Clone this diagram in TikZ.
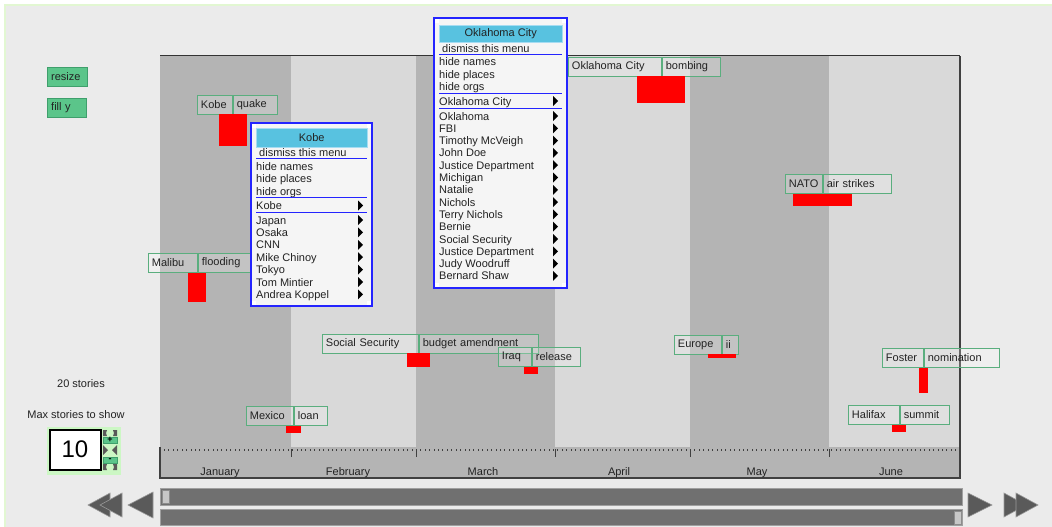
\documentclass[tikz,border=0pt]{standalone}
\usepackage{fontspec}
\setmainfont{Liberation Sans}
\usepackage{xcolor}
\usetikzlibrary{positioning, calc}

\definecolor{panel}{HTML}{EBEBEB}
\definecolor{paneledge}{HTML}{E2F7D2}
\definecolor{darkband}{HTML}{B4B4B4}
\definecolor{lightband}{HTML}{D9D9D9}
\definecolor{tagline}{HTML}{5AAE7E}
\definecolor{btngreen}{HTML}{5BC58A}
\definecolor{btnedge}{HTML}{3F9F6C}
\definecolor{menublue}{HTML}{2424FF}
\definecolor{menubg}{HTML}{F5F5F5}
\definecolor{titlecyan}{HTML}{58C2E0}
\definecolor{titleedge}{HTML}{A6DCF2}
\definecolor{scrollgray}{HTML}{707070}
\definecolor{scrolledge}{HTML}{A0A0A0}
\definecolor{arrowgray}{HTML}{5A5A5A}
\definecolor{spinbg}{HTML}{CCF7C4}
\definecolor{ink}{HTML}{222222}

\begin{document}
\begin{tikzpicture}[
    x=1pt, y=-1pt,
    font=\fontsize{11}{13}\selectfont,
    tag/.style={
        rectangle,
        draw=tagline,
        line width=0.9pt,
        fill=white,
        fill opacity=0.2,
        text opacity=1,
        text=ink,
        minimum height=19pt,
        inner xsep=3.5pt,
        inner ysep=0pt,
        anchor=north west,
        align=left
    },
    bar/.style={fill=red},
    button/.style={
        rectangle,
        draw=btnedge,
        fill=btngreen,
        text=ink,
        minimum height=19pt,
        inner xsep=4pt,
        inner ysep=0pt,
        anchor=north west,
        align=left
    },
    menuframe/.style={draw=menublue, fill=menubg, line width=2pt},
    menutitle/.style={
        rectangle,
        draw=titleedge,
        fill=titlecyan,
        text=ink,
        inner sep=0pt,
        anchor=north west
    },
    item/.style={anchor=base west, inner sep=0pt, text=ink},
    sep/.style={menublue, line width=1pt},
    month/.style={anchor=base, inner sep=0pt, text=ink},
    scroll/.style={fill=scrollgray, draw=scrolledge, line width=0.8pt},
    thumb/.style={fill=black!22, draw=black!45, line width=0.6pt},
    playarrow/.style={fill=arrowgray, draw=black!40, line width=0.6pt}
]

\useasboundingbox (0,0) rectangle (1052,527);

% Panel
\fill[white] (0,0) rectangle (1052,527);
\fill[panel, draw=paneledge, line width=1.2pt] (5,5) rectangle (1062,537);

% Month bands
\fill[darkband]  (160,56) rectangle (291,448);
\fill[lightband] (291,56) rectangle (416,448);
\fill[darkband]  (416,56) rectangle (555,448);
\fill[lightband] (555,56) rectangle (690,448);
\fill[darkband]  (690,56) rectangle (829,448);
\fill[lightband] (829,56) rectangle (960,448);

% Axis
\fill[darkband] (160,447) rectangle (960,478);
\foreach \d in {0,...,180}
    \draw[black!75, line width=0.8pt] ({160+\d*4.42},449) -- ++(0,2.4);
\foreach \m in {291,416,555,690,829}
    \draw[black!75, line width=1pt] (\m,449) -- (\m,457);
\draw[black!80, line width=1pt] (160,56) -- (960,56);
\draw[black!75, line width=1.2pt] (160,447) -- (160,478) -- (960,478) -- (960,56);

\node[month] (jan) at (220,475) {January};
\node[month] (feb) at (348,475) {February};
\node[month] (mar) at (483,475) {March};
\node[month] (apr) at (619,475) {April};
\node[month] (may) at (757,475) {May};
\node[month] (jun) at (891,475) {June};

% Scroll bars
\draw[scroll] (160,488) rectangle (962,505);
\draw[scroll] (160,509) rectangle (962,525);
\draw[thumb] (162,490) rectangle (169,503);
\draw[thumb] (954,511) rectangle (961,524);

% Play arrows
\draw[playarrow] (110,493) -- (88,505) -- (110,517) -- cycle;
\draw[playarrow] (122,493) -- (100,505) -- (122,517) -- cycle;
\draw[playarrow] (153,492) -- (128,505) -- (153,518) -- cycle;
\draw[playarrow] (968,493) -- (992,505) -- (968,517) -- cycle;
\draw[playarrow] (1004,493) -- (1026,505) -- (1004,517) -- cycle;
\draw[playarrow] (1016,493) -- (1038,505) -- (1016,517) -- cycle;

% Controls
\node[button, text width=32pt] (resize) at (47,67) {resize};
\node[button, text width=31pt] (filly) at (47,98) {fill y};

\node[text=ink] (count) at (81,384) {20 stories};
\node[text=ink] (maxlbl) at (76,415) {Max stories to show};

\fill[spinbg] (47,427) rectangle (121,475);
\node[draw=black, line width=2pt, fill=white, minimum width=51pt, minimum height=40pt,
      font=\fontsize{24}{26}\selectfont, text=black] (maxval) at (75,449.5) {10};
\fill[black!65] (103,430) -- (107,430) -- (106,433) -- (107,436) -- (103,436) -- cycle;
\fill[black!65] (117,430) -- (113,430) -- (114,433) -- (113,436) -- (117,436) -- cycle;
\fill[black!65] (103,445) -- (108,450) -- (103,455) -- cycle;
\fill[black!65] (117,445) -- (112,450) -- (117,455) -- cycle;
\fill[black!65] (103,464) -- (107,464) -- (106,467) -- (107,470) -- (103,470) -- cycle;
\fill[black!65] (117,464) -- (113,464) -- (114,467) -- (113,470) -- (117,470) -- cycle;
\node[fill=btngreen, draw=btnedge, minimum width=14pt, minimum height=6pt, inner sep=0pt,
      font=\fontsize{9}{9}\selectfont\bfseries] (plus) at (110,440) {+};
\node[fill=btngreen, draw=btnedge, minimum width=14pt, minimum height=6pt, inner sep=0pt,
      font=\fontsize{9}{9}\selectfont\bfseries] (minus) at (110,460) {-};

% Stories
\node[tag, text width=28pt] (kobe) at (197,95) {Kobe};
\node[tag, text width=37pt, right=0pt of kobe] (kobew) {quake};
\fill[bar] (219,114) rectangle (247,146);

\node[tag, text width=86pt] (okc) at (568,57) {Oklahoma City};
\node[tag, text width=51pt, right=0pt of okc] (okcw) {bombing};
\fill[bar] (637,76) rectangle (685,103);

\node[tag, text width=30pt] (nato) at (785,174) {NATO};
\node[tag, text width=61pt, right=0pt of nato] (natow) {air strikes};
\fill[bar] (793,194) rectangle (852,206);

\node[tag, text width=42pt] (malibu) at (148,253) {Malibu};
\node[tag, text width=53pt, right=0pt of malibu] (malibuw) {flooding};
\fill[bar] (188,273) rectangle (206,302);

\node[tag, text width=89pt] (socsec) at (322,334) {Social Security};
\node[tag, text width=112pt, right=0pt of socsec] (socsecw) {budget amendment};
\fill[bar] (407,353) rectangle (430,367);

\node[tag, text width=26pt] (iraq) at (498,347) {Iraq};
\node[tag, text width=41pt, right=0pt of iraq] (iraqw) {release};
\fill[bar] (524,367) rectangle (538,374);

\node[tag, text width=40pt] (europe) at (674,335) {Europe};
\node[tag, text width=9pt, right=0pt of europe] (europew) {ii};
\fill[bar] (708,354) rectangle (736,358);

\node[tag, text width=34pt] (foster) at (882,348) {Foster};
\node[tag, text width=68pt, right=0pt of foster] (fosterw) {nomination};
\fill[bar] (919,368) rectangle (928,393);

\node[tag, text width=44pt] (halifax) at (848,405) {Halifax};
\node[tag, text width=42pt, right=0pt of halifax] (halifaxw) {summit};
\fill[bar] (892,425) rectangle (906,432);

\node[tag, text width=40pt] (mexico) at (246,406) {Mexico};
\node[tag, text width=26pt, right=0pt of mexico] (mexicow) {loan};
\fill[bar] (286,426) rectangle (301,433);

% Kobe menu
\draw[menuframe] (251,123) rectangle (372,306);
\fill[white] (252,124) rectangle (256,128);
\fill[white] (367,124) rectangle (371,128);
\fill[white] (252,301) rectangle (256,305);
\fill[white] (367,301) rectangle (371,305);
\node[menutitle, minimum width=111pt, minimum height=19pt] (kobetitle) at (256,128) {Kobe};
\node[item] (kobedismiss) at (259,156.3) {dismiss this menu};
\draw[sep] (256,158.3) -- (367,158.3);
\node[item] (kobenames) at (256,170.5) {hide names};
\node[item] (kobeplaces) at (256,182.8) {hide places};
\node[item] (kobeorgs) at (256,195) {hide orgs};
\draw[sep] (256,197) -- (367,197);
\node[item] (kobesub) at (256,209.5) {Kobe};
\draw[sep] (256,212) -- (367,212);
\node[item] (kobea) at (256,224) {Japan};
\node[item] (kobeb) at (256,236.4) {Osaka};
\node[item] (kobec) at (256,248.8) {CNN};
\node[item] (kobed) at (256,261.2) {Mike Chinoy};
\node[item] (kobee) at (256,273.6) {Tokyo};
\node[item] (kobef) at (256,286) {Tom Mintier};
\node[item] (kobeg) at (256,298.4) {Andrea Koppel};
\foreach \b in {209.5,224,236.4,248.8,261.2,273.6,286,298.4}
    \fill[black] (358,\b-9) -- (363,\b-4) -- (358,\b+1) -- cycle;

% Oklahoma City menu
\draw[menuframe] (434,18) rectangle (567,288);
\fill[white] (435,19) rectangle (439,23);
\fill[white] (562,19) rectangle (566,23);
\fill[white] (435,283) rectangle (439,287);
\fill[white] (562,283) rectangle (566,287);
\node[menutitle, minimum width=123pt, minimum height=17pt] (okctitle) at (439,25) {Oklahoma City};
\node[item] (okcdismiss) at (442,52.3) {dismiss this menu};
\draw[sep] (439,54.3) -- (562,54.3);
\node[item] (okcnames) at (439,66) {hide names};
\node[item] (okcplaces) at (439,78.3) {hide places};
\node[item] (okcorgs) at (439,90.6) {hide orgs};
\draw[sep] (439,93.3) -- (562,93.3);
\node[item] (okcsub) at (439,105) {Oklahoma City};
\draw[sep] (439,108.3) -- (562,108.3);
\node[item] (okca) at (439,120) {Oklahoma};
\node[item] (okcb) at (439,132.3) {FBI};
\node[item] (okcc) at (439,144.6) {Timothy McVeigh};
\node[item] (okcd) at (439,156.9) {John Doe};
\node[item] (okce) at (439,169.2) {Justice Department};
\node[item] (okcf) at (439,181.5) {Michigan};
\node[item] (okcg) at (439,193.8) {Natalie};
\node[item] (okch) at (439,206.1) {Nichols};
\node[item] (okci) at (439,218.4) {Terry Nichols};
\node[item] (okcj) at (439,230.7) {Bernie};
\node[item] (okck) at (439,243) {Social Security};
\node[item] (okcl) at (439,255.3) {Justice Department};
\node[item] (okcm) at (439,267.6) {Judy Woodruff};
\node[item] (okcn) at (439,279.9) {Bernard Shaw};
\foreach \b in {105,120,132.3,144.6,156.9,169.2,181.5,193.8,206.1,218.4,230.7,243,255.3,267.6,279.9}
    \fill[black] (553,\b-9) -- (558,\b-4) -- (553,\b+1) -- cycle;

\end{tikzpicture}
\end{document}
